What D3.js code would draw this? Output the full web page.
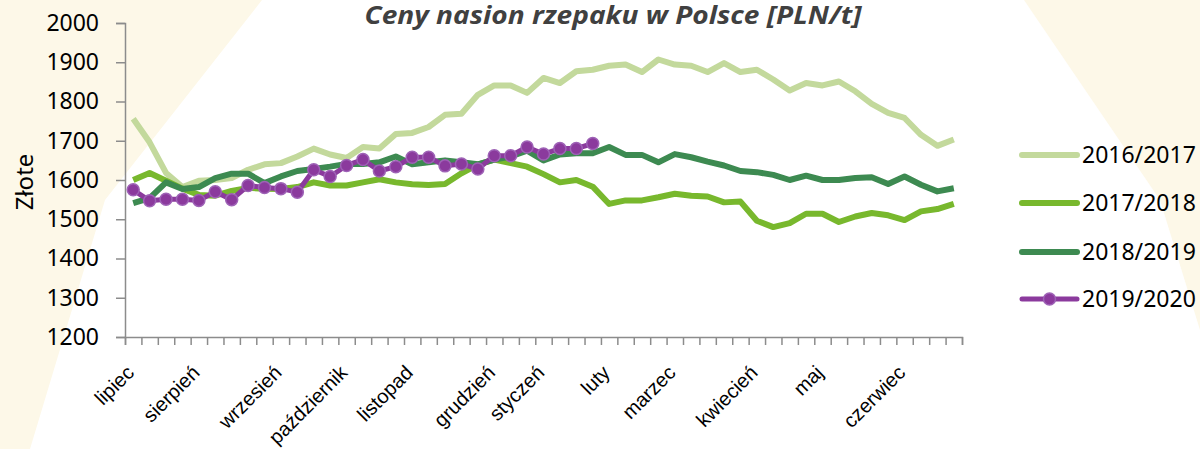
<!DOCTYPE html>
<html>
<head>
<meta charset="utf-8">
<script src="https://cdn.jsdelivr.net/npm/d3@7"></script>
<style>
  body { margin: 0; background: #fff; }
  svg { display: block; }
</style>
</head>
<body>
<svg id="chart" width="1200" height="449"></svg>
<script>
// weekly categories, month name on the first week of the month
var categories = ["lipiec","","","","sierpień","","","","","wrzesień","","","","październik","","","","listopad","","","","","grudzień","","","styczeń","","","","luty","","","","marzec","","","","","kwiecień","","","","maj","","","","","czerwiec","","",""];

var seriesNames = ["2016/2017", "2017/2018", "2018/2019", "2019/2020"];
var seriesColors = ["#c3d99c", "#78b82d", "#3d8a51", "#8b3a9d"];

var s1617 = [1756,1696,1618,1582,1598,1600,1605,1626,1640,1643,1660,1680,1665,1656,1684,1680,1717,1720,1735,1766,1769,1817,1841,1841,1822,1860,1847,1877,1881,1891,1894,1875,1907,1894,1891,1875,1898,1875,1881,1856,1828,1847,1841,1851,1826,1794,1771,1758,1715,1687,1703];
var s1718 = [1600,1618,1598,1578,1562,1560,1572,1580,1578,1577,1582,1594,1586,1586,1594,1602,1594,1589,1587,1590,1617,1639,1652,1643,1634,1615,1594,1600,1583,1539,1548,1548,1556,1565,1560,1558,1543,1545,1496,1480,1490,1514,1514,1493,1507,1516,1510,1498,1520,1526,1539];
var s1819 = [1541,1554,1594,1577,1582,1605,1616,1616,1592,1609,1623,1628,1634,1641,1641,1645,1660,1640,1645,1650,1645,1640,1652,1660,1675,1650,1665,1668,1668,1684,1664,1664,1645,1666,1658,1647,1637,1623,1620,1613,1600,1611,1600,1600,1605,1607,1590,1609,1588,1571,1579];
var s1920 = [1575,1547,1551,1551,1548,1570,1550,1586,1581,1578,1569,1626,1609,1637,1652,1623,1634,1658,1658,1636,1641,1628,1662,1662,1684,1666,1680,1680,1693];

var yTicks = [1200,1300,1400,1500,1600,1700,1800,1900,2000];

var svg = d3.select("#chart");
var margin = {top: 23, left: 125, right: 238, bottom: 112},
    width = 1200 - margin.left - margin.right,
    height = 449 - margin.top - margin.bottom;

// background rays
var cream = "#fdf8e8";
svg.append("polygon")
  .attr("points", "0,0 262,0 105,200 30,449 0,449")
  .attr("fill", cream);
svg.append("polygon")
  .attr("points", "1024,0 1200,0 1200,330 1160,200")
  .attr("fill", cream);

var g = svg.append("g").attr("transform", "translate(" + margin.left + "," + margin.top + ")");

var idx = d3.range(categories.length);
var x = d3.scaleBand().domain(idx).range([0, width]).padding(0);
var xEdge = d3.scaleLinear().domain([0, categories.length]).range([0, width]);
var y = d3.scaleLinear().domain([1200, 2000]).range([height, 0]);
function cx(i) { return x(i) + x.bandwidth() / 2; }

// axes
var yAxis = g.append("g")
  .call(d3.axisLeft(y).tickValues(yTicks).tickSize(9).tickPadding(17).tickFormat(d3.format("d")));
yAxis.select(".domain").attr("stroke", "#8c8c8c").attr("stroke-width", 1.5);
yAxis.selectAll(".tick line").attr("stroke", "#8c8c8c").attr("stroke-width", 1.5);
yAxis.selectAll(".tick text")
  .attr("font-family", "'Noto Sans', sans-serif")
  .attr("font-size", 23)
  .attr("fill", "#000");

var xAxis = g.append("g")
  .attr("transform", "translate(0," + height + ")")
  .call(d3.axisBottom(xEdge).tickValues(d3.range(categories.length + 1)).tickSize(8).tickFormat(""));
xAxis.select(".domain").attr("stroke", "#8c8c8c").attr("stroke-width", 1.5);
xAxis.selectAll(".tick line").attr("stroke", "#8c8c8c").attr("stroke-width", 1.5);

g.append("g").selectAll("text")
  .data(idx.filter(function(i) { return categories[i] !== ""; }))
  .enter().append("text")
    .attr("transform", function(i) { return "translate(" + (cx(i) + 2) + "," + (height + 37) + ") rotate(-45)"; })
    .attr("text-anchor", "end")
    .attr("font-family", "'Liberation Sans', Arial, sans-serif")
    .attr("font-size", 20)
    .attr("fill", "#000")
    .text(function(i) { return categories[i]; });

// lines
var allSeries = [s1617, s1718, s1819, s1920];
var line = d3.line()
  .x(function(d, i) { return cx(i); })
  .y(function(d) { return y(d); });

allSeries.forEach(function(s, k) {
  g.append("path")
    .datum(s)
    .attr("fill", "none")
    .attr("stroke", seriesColors[k])
    .attr("stroke-width", k == 3 ? 5 : 6)
    .attr("stroke-linejoin", "round")
    .attr("d", line);
});

g.append("g").selectAll("circle")
  .data(s1920)
  .enter().append("circle")
    .attr("cx", function(d, i) { return cx(i); })
    .attr("cy", function(d) { return y(d); })
    .attr("r", 6)
    .attr("fill", "#8b3a9d")
    .attr("stroke", "#9e62b6")
    .attr("stroke-width", 1.5);

// title
svg.append("text")
  .attr("x", 613)
  .attr("y", 24)
  .attr("text-anchor", "middle")
  .attr("font-family", "'Open Sans', sans-serif")
  .attr("font-style", "italic")
  .attr("font-weight", "bold")
  .attr("font-size", 25)
  .attr("textLength", 497)
  .attr("lengthAdjust", "spacingAndGlyphs")
  .attr("fill", "#404040")
  .text("Ceny nasion rzepaku w Polsce [PLN/t]");

// y label
svg.append("text")
  .attr("transform", "translate(33,182) rotate(-90)")
  .attr("text-anchor", "middle")
  .attr("font-family", "'Noto Sans', sans-serif")
  .attr("font-size", 24)
  .attr("fill", "#000")
  .text("Złote");

// legend
var legendY = [155, 203, 252, 299];
var legend = svg.append("g").selectAll("g")
  .data(seriesNames)
  .enter().append("g")
    .attr("transform", function(d, i) { return "translate(1022," + legendY[i] + ")"; });

legend.append("line")
  .attr("x1", 0).attr("x2", 55)
  .attr("stroke", function(d, i) { return seriesColors[i]; })
  .attr("stroke-width", function(d, i) { return i == 3 ? 5 : 6; })
  .attr("stroke-linecap", "round");

legend.filter(function(d, i) { return i == 3; })
  .append("circle")
    .attr("cx", 27.5).attr("r", 6)
    .attr("fill", "#8b3a9d")
    .attr("stroke", "#9e62b6")
    .attr("stroke-width", 1.5);

legend.append("text")
  .attr("x", 60)
  .attr("dy", "0.35em")
  .attr("font-family", "'Noto Sans', sans-serif")
  .attr("font-size", 23)
  .attr("fill", "#000")
  .text(function(d) { return d; });
</script>
</body>
</html>
